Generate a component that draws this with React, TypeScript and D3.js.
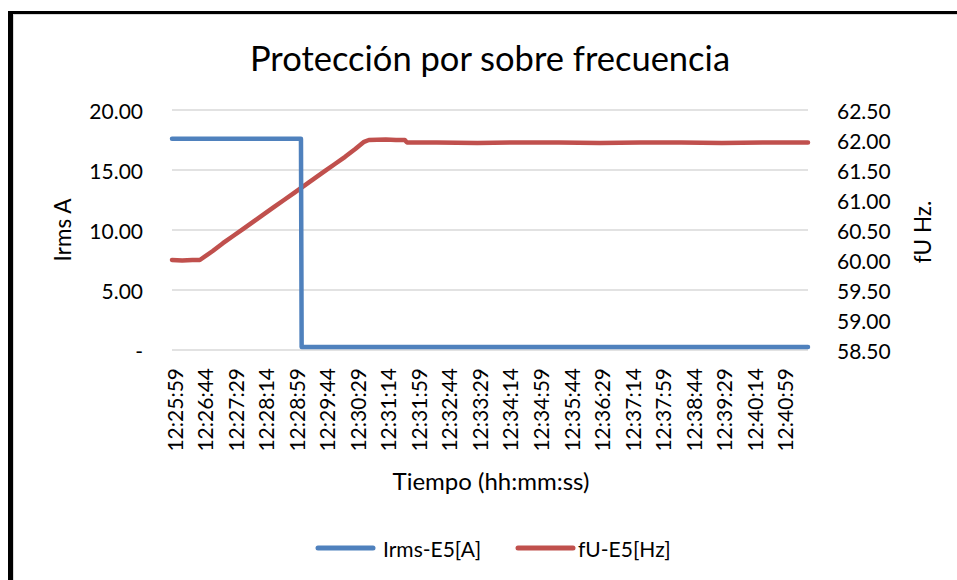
import React from "react";
import * as d3 from "d3";

// tiempos de muestreo (hh:mm:ss) y lecturas
const currentTimes = ["12:25:59", "12:29:09", "12:29:10", "12:41:36"];
const currentValues = [17.6, 17.6, 0.25, 0.25];

const freqTimes = [
  "12:25:59", "12:26:14", "12:26:29", "12:26:40", "12:26:59", "12:27:14",
  "12:27:29", "12:27:44", "12:27:59", "12:28:14", "12:28:29", "12:28:44",
  "12:28:59", "12:29:14", "12:29:29", "12:29:44", "12:29:59", "12:30:14",
  "12:30:29", "12:30:42", "12:30:49", "12:31:14", "12:31:29", "12:31:42",
  "12:31:45", "12:32:29", "12:33:29", "12:34:29", "12:35:29", "12:36:29",
  "12:37:29", "12:38:29", "12:39:29", "12:40:29", "12:41:36",
];
const freqValues = [
  60.0, 59.99, 60.0, 60.0, 60.15, 60.28,
  60.4, 60.52, 60.64, 60.76, 60.88, 61.0,
  61.12, 61.24, 61.36, 61.48, 61.6, 61.72,
  61.85, 61.97, 62.0, 62.01, 62.0, 62.0,
  61.96, 61.96, 61.95, 61.96, 61.96, 61.95,
  61.96, 61.96, 61.95, 61.96, 61.96,
];

const xTickLabels = [
  "12:25:59", "12:26:44", "12:27:29", "12:28:14", "12:28:59", "12:29:44",
  "12:30:29", "12:31:14", "12:31:59", "12:32:44", "12:33:29", "12:34:14",
  "12:34:59", "12:35:44", "12:36:29", "12:37:14", "12:37:59", "12:38:44",
  "12:39:29", "12:40:14", "12:40:59",
];
const leftTicks = [0, 5, 10, 15, 20];
const rightTicks = [58.5, 59, 59.5, 60, 60.5, 61, 61.5, 62, 62.5];

const W = 957, H = 580;
const FONT = "Lato, 'DejaVu Sans', sans-serif";
const BLUE = "#4f81bd", RED = "#c0504d";

const parse = d3.timeParse("%H:%M:%S");

export default function App() {
  const x = d3.scaleTime()
    .domain([parse("12:25:59")!, parse("12:41:36")!])
    .range([172, 808]);
  const yL = d3.scaleLinear().domain([0, 20]).range([350, 110]);
  const yR = d3.scaleLinear().domain([58.5, 62.5]).range([350, 110]);

  const current = currentTimes.map((t, i) => ({ t: parse(t)!, v: currentValues[i] }));
  const freq = freqTimes.map((t, i) => ({ t: parse(t)!, v: freqValues[i] }));

  const lineL = d3.line<{ t: Date; v: number }>().x(d => x(d.t)).y(d => yL(d.v));
  const lineR = d3.line<{ t: Date; v: number }>().x(d => x(d.t)).y(d => yR(d.v));

  const fmt = d3.format(".2f");

  return (
    <svg width={W} height={H} style={{ position: "absolute", left: 0, top: 0 }} fontFamily={FONT}>
      <rect width={W} height={H} fill="#fff" />
      {/* marco */}
      <line x1={13.5} x2={13.5} y1={14} y2={H} stroke="#d9d9d9" />
      <line x1={13} x2={W} y1={14.5} y2={14.5} stroke="#d9d9d9" />
      <line x1={10.5} x2={10.5} y1={11} y2={H} stroke="#000" strokeWidth={5} />
      <line x1={8} x2={W} y1={12.5} y2={12.5} stroke="#000" strokeWidth={3} />

      <text x={490} y={57} textAnchor="middle" dominantBaseline="central" fontSize={34.5}>
        Protección por sobre frecuencia
      </text>

      {/* rejilla */}
      {leftTicks.map(v => (
        <line key={v} x1={172} x2={808} y1={yL(v)} y2={yL(v)} stroke="#d9d9d9" strokeWidth={1.5} />
      ))}

      {/* eje izquierdo */}
      {leftTicks.map(v => (
        <text key={v} x={143} y={yL(v)} textAnchor="end" dominantBaseline="central" fontSize={21}>
          {v === 0 ? "-" : fmt(v)}
        </text>
      ))}
      <text transform={`translate(62,230) rotate(-90)`} textAnchor="middle" dominantBaseline="central" fontSize={22.5}>
        Irms A
      </text>

      {/* eje derecho */}
      {rightTicks.map(v => (
        <text key={v} x={837} y={yR(v)} dominantBaseline="central" fontSize={21}>
          {fmt(v)}
        </text>
      ))}
      <text transform={`translate(922,232) rotate(-90)`} textAnchor="middle" dominantBaseline="central" fontSize={22.5}>
        fU Hz.
      </text>

      {/* eje x */}
      {xTickLabels.map(t => (
        <text key={t} transform={`translate(${x(parse(t)!) + 2},368) rotate(-90)`} textAnchor="end" dominantBaseline="central" fontSize={21}>
          {t}
        </text>
      ))}
      <text x={491} y={480} textAnchor="middle" dominantBaseline="central" fontSize={24}>
        Tiempo (hh:mm:ss)
      </text>

      {/* series */}
      <path d={lineR(freq)!} fill="none" stroke={RED} strokeWidth={4.5} strokeLinejoin="round" strokeLinecap="round" />
      <path d={lineL(current)!} fill="none" stroke={BLUE} strokeWidth={4.5} strokeLinejoin="round" strokeLinecap="round" />

      {/* leyenda */}
      <line x1={318} x2={373} y1={548} y2={548} stroke={BLUE} strokeWidth={5} strokeLinecap="round" />
      <text x={383} y={548} dominantBaseline="central" fontSize={21}>Irms-E5[A]</text>
      <line x1={518} x2={573} y1={548} y2={548} stroke={RED} strokeWidth={5} strokeLinecap="round" />
      <text x={578} y={548} dominantBaseline="central" fontSize={21}>fU-E5[Hz]</text>
    </svg>
  );
}
